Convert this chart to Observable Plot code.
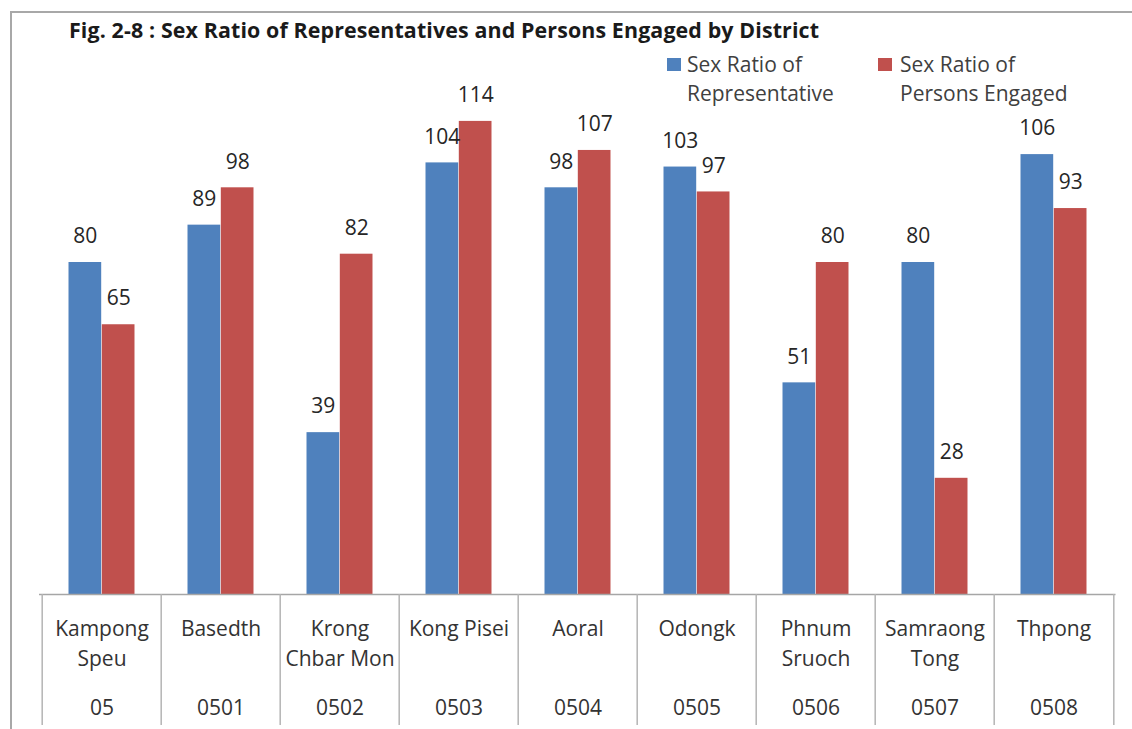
<!DOCTYPE html>
<html><head><meta charset="utf-8">
<script src="https://cdn.jsdelivr.net/npm/d3@7"></script>
<script src="https://cdn.jsdelivr.net/npm/@observablehq/plot@0.6"></script>
<style>
body{margin:0;background:#fff;}
#wrap{position:relative;width:1132px;height:729px;overflow:hidden;font-family:"Open Sans",sans-serif;background:#fff;}
#frame{position:absolute;left:10px;top:11px;width:1130px;height:730px;border-left:2px solid #a8a8a8;border-top:2px solid #a8a8a8;}
#title{position:absolute;left:69px;top:19px;font-weight:bold;font-size:21.4px;line-height:21.4px;color:#1a1a1a;white-space:nowrap;letter-spacing:0.12px;}
.leg{position:absolute;font-size:21px;line-height:29.4px;color:#404040;white-space:nowrap;}
.sw{position:absolute;width:14px;height:13px;}
#chart{position:absolute;left:0;top:0;}
</style></head>
<body>
<div id="wrap">
<div id="frame"></div>
<div id="chart"></div>
<div id="title">Fig. 2-8 : Sex Ratio of Representatives and Persons Engaged by District</div>
<div class="sw" style="left:667px;top:58px;background:#4F81BD"></div>
<div class="leg" style="left:687px;top:49.5px">Sex Ratio of<br>Representative</div>
<div class="sw" style="left:878px;top:58px;background:#C0504D"></div>
<div class="leg" style="left:900px;top:49.5px">Sex Ratio of<br>Persons Engaged</div>
</div>
<script>
const categories = ["Kampong\nSpeu","Basedth","Krong\nChbar Mon","Kong Pisei","Aoral","Odongk","Phnum\nSruoch","Samraong\nTong","Thpong"];
const codes = ["05","0501","0502","0503","0504","0505","0506","0507","0508"];
const repValues = [80,89,39,104,98,103,51,80,106];
const engValues = [65,98,82,114,107,97,80,28,93];

const data = categories.map((c,i)=>({cat:c, code:codes[i], rep:repValues[i], eng:engValues[i]}));
const marginLeft = 39, marginRight = 16.5;
const bw = (1132 - marginLeft - marginRight) / categories.length;
const barW = 33.3;
const outer = (bw - 2*barW) / 2;
const baseY = 594, pxPerUnit = 4.15;
const lineC = "#b4b4b4";

const chart = Plot.plot({
  width: 1132, height: 729,
  marginLeft, marginRight, marginTop: 0, marginBottom: 4,
  x: {domain: categories, padding: 0, axis: null},
  y: {domain: [0, 120], range: [baseY, baseY - 120*pxPerUnit], axis: null},
  style: {fontFamily: "Open Sans", background: "transparent", overflow: "visible"},
  marks: [
    Plot.barY(data, {x: "cat", y: "rep", fill: "#4F81BD", insetLeft: outer, insetRight: outer + barW}),
    Plot.barY(data, {x: "cat", y: "eng", fill: "#C0504D", insetLeft: outer + barW, insetRight: outer}),
    Plot.text(data, {x: "cat", y: "rep", text: d => String(d.rep), dx: -barW/2, dy: -26, fontSize: 21, fill: "#262626"}),
    Plot.text(data, {x: "cat", y: "eng", text: d => String(d.eng), dx: barW/2, dy: -26, fontSize: 21, fill: "#262626"}),
    Plot.ruleY([0], {stroke: "#a6a6a6", strokeWidth: 1.5}),
    Plot.ruleX(categories, {x: d => d, dx: -bw/2, insetTop: baseY, stroke: lineC, strokeWidth: 1.5}),
    Plot.ruleX(categories.slice(-1), {x: d => d, dx: bw/2, insetTop: baseY, stroke: lineC, strokeWidth: 1.5}),
    Plot.text(data, {x: "cat", y: d => 0, text: "cat", lineAnchor: "top", dy: 20, fontSize: 21, lineHeight: 30/21, fill: "#333333"}),
    Plot.text(data, {x: "cat", y: d => 0, text: "code", lineAnchor: "top", dy: 106, fontSize: 21, fill: "#333333"})
  ]
});
document.getElementById("chart").appendChild(chart);
</script>
</body></html>
